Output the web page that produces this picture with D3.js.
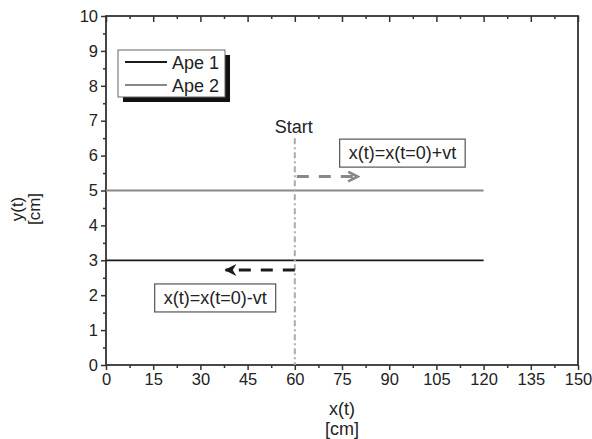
<!DOCTYPE html>
<html lang="en">
<head>
<meta charset="utf-8">
<title>Ape positions</title>
<script src="https://d3js.org/d3.v7.min.js"></script>
<style>
  body { margin: 0; background: #fff; }
  text { font-family: "Liberation Sans", Arial, sans-serif; fill: #222; }
</style>
</head>
<body>
<script>
// data
var xTicks = [0, 15, 30, 45, 60, 75, 90, 105, 120, 135, 150];
var yTicks = [0, 1, 2, 3, 4, 5, 6, 7, 8, 9, 10];
var seriesNames = ["Ape 1", "Ape 2"];
var seriesColors = ["#1a1a1a", "#888888"];
var ape1 = [{x: 0, y: 3}, {x: 120, y: 3}];
var ape2 = [{x: 0, y: 5}, {x: 120, y: 5}];
var startX = 60, startTop = 6.5;
var arrowRight = {x0: 60, x1: 80, y: 5.4};
var arrowLeft = {x0: 60, x1: 38, y: 2.72};
var labelRight = {x: 94.2, y: 6.1, text: "x(t)=x(t=0)+vt"};
var labelLeft = {x: 34.7, y: 1.95, text: "x(t)=x(t=0)-vt"};

var w = 592, h = 439;
var margin = {top: 16, right: 14, bottom: 74, left: 106};

var svg = d3.select("body").append("svg").attr("width", w).attr("height", h);

var x = d3.scaleLinear().domain([0, 150]).range([margin.left, w - margin.right]);
var y = d3.scaleLinear().domain([0, 10]).range([h - margin.bottom, margin.top]);

var defs = svg.append("defs");
defs.append("marker").attr("id", "open").attr("viewBox", "0 0 10 10")
  .attr("refX", 9).attr("refY", 5).attr("markerWidth", 4.5).attr("markerHeight", 4)
  .attr("orient", "auto").attr("markerUnits", "strokeWidth")
  .append("path").attr("d", "M1,1 L9,5 L1,9").attr("fill", "none")
  .attr("stroke", "#888").attr("stroke-width", 2.2);
defs.append("marker").attr("id", "filled").attr("viewBox", "0 0 10 10")
  .attr("refX", 9).attr("refY", 5).attr("markerWidth", 4.5).attr("markerHeight", 4)
  .attr("orient", "auto").attr("markerUnits", "strokeWidth")
  .append("path").attr("d", "M0,0 L10,5 L0,10 L3,5 Z").attr("fill", "#1a1a1a");

// axes
var xMinor = d3.range(0, 151, 7.5).filter(function(d){ return xTicks.indexOf(d) < 0; });
var yMinor = d3.range(0, 10.01, 0.5).filter(function(d){ return yTicks.indexOf(d) < 0; });

svg.append("g").attr("transform", "translate(0," + y(0) + ")")
  .call(d3.axisBottom(x).tickValues(xTicks).tickSize(5).tickPadding(3));
svg.append("g").attr("transform", "translate(0," + y(0) + ")")
  .call(d3.axisBottom(x).tickValues(xMinor).tickSize(3).tickFormat(""));
svg.append("g").attr("transform", "translate(" + x(0) + ",0)")
  .call(d3.axisLeft(y).tickValues(yTicks).tickSize(5).tickPadding(3));
svg.append("g").attr("transform", "translate(" + x(0) + ",0)")
  .call(d3.axisLeft(y).tickValues(yMinor).tickSize(3).tickFormat(""));
// top axis, ticks pointing into the plot
svg.append("g").attr("transform", "translate(0," + y(10) + ")")
  .call(d3.axisBottom(x).tickValues(xTicks).tickSize(6).tickFormat(""));
svg.append("g").attr("transform", "translate(0," + y(10) + ")")
  .call(d3.axisBottom(x).tickValues(xMinor).tickSize(3).tickFormat(""));

svg.selectAll(".domain").remove();
svg.selectAll(".tick line").attr("stroke", "#333").attr("stroke-width", 1.5);
svg.selectAll(".tick text").style("font-size", "16.5px").attr("fill", "#222");

svg.append("rect").attr("x", x(0)).attr("y", y(10))
  .attr("width", x(150) - x(0)).attr("height", y(0) - y(10))
  .attr("fill", "none").attr("stroke", "#333").attr("stroke-width", 1.8);

// axis titles
svg.append("text").attr("x", x(75)).attr("y", 415).attr("text-anchor", "middle")
  .style("font-size", "18px").text("x(t)");
svg.append("text").attr("x", x(75)).attr("y", 435).attr("text-anchor", "middle")
  .style("font-size", "18px").text("[cm]");
var yt = svg.append("text").attr("transform", "translate(23,209) rotate(-90)")
  .attr("text-anchor", "middle").style("font-size", "17px");
yt.append("tspan").attr("x", 0).attr("dy", 0).text("y(t)");
yt.append("tspan").attr("x", 0).attr("dy", 17).text("[cm]");

// series
var line = d3.line().x(function(d){ return x(d.x); }).y(function(d){ return y(d.y); });
svg.append("path").datum(ape1).attr("d", line).attr("fill", "none")
  .attr("stroke", seriesColors[0]).attr("stroke-width", 1.8);
svg.append("path").datum(ape2).attr("d", line).attr("fill", "none")
  .attr("stroke", seriesColors[1]).attr("stroke-width", 2);

// start line
svg.append("line").attr("x1", x(startX)).attr("x2", x(startX))
  .attr("y1", y(startTop)).attr("y2", y(0))
  .attr("stroke", "#aaa").attr("stroke-width", 2).attr("stroke-dasharray", "6,3,2,3");
svg.append("text").attr("x", x(startX) - 1).attr("y", y(startTop) - 5)
  .attr("text-anchor", "middle").style("font-size", "18px").text("Start");

// arrows
svg.append("line").attr("x1", x(arrowRight.x0) + 2).attr("x2", x(arrowRight.x1))
  .attr("y1", y(arrowRight.y)).attr("y2", y(arrowRight.y))
  .attr("stroke", "#888").attr("stroke-width", 3).attr("stroke-dasharray", "12,10")
  .attr("marker-end", "url(#open)");
svg.append("line").attr("x1", x(arrowLeft.x0)).attr("x2", x(arrowLeft.x1))
  .attr("y1", y(arrowLeft.y)).attr("y2", y(arrowLeft.y))
  .attr("stroke", "#1a1a1a").attr("stroke-width", 3).attr("stroke-dasharray", "12,10")
  .attr("marker-end", "url(#filled)");

// label boxes
[labelRight, labelLeft].forEach(function(l) {
  var g = svg.append("g");
  var t = g.append("text").attr("x", x(l.x)).attr("y", y(l.y) + 7)
    .attr("text-anchor", "middle").style("font-size", "18px").text(l.text);
  var bb = t.node().getBBox();
  g.insert("rect", "text").attr("x", bb.x - 9).attr("y", bb.y - 4)
    .attr("width", bb.width + 18).attr("height", bb.height + 8)
    .attr("fill", "#fff").attr("stroke", "#555").attr("stroke-width", 1.2);
});

// legend
var lg = svg.append("g").attr("transform", "translate(118,50)");
lg.append("rect").attr("x", 5).attr("y", 5).attr("width", 107).attr("height", 47).attr("fill", "#111");
lg.append("rect").attr("width", 107).attr("height", 47).attr("fill", "#fff")
  .attr("stroke", "#666").attr("stroke-width", 1);
seriesNames.forEach(function(n, i) {
  lg.append("line").attr("x1", 7).attr("x2", 49).attr("y1", 12 + i * 23).attr("y2", 12 + i * 23)
    .attr("stroke", seriesColors[i]).attr("stroke-width", 2);
  lg.append("text").attr("x", 54).attr("y", 18.5 + i * 23).style("font-size", "18px").text(n);
});
</script>
</body>
</html>
